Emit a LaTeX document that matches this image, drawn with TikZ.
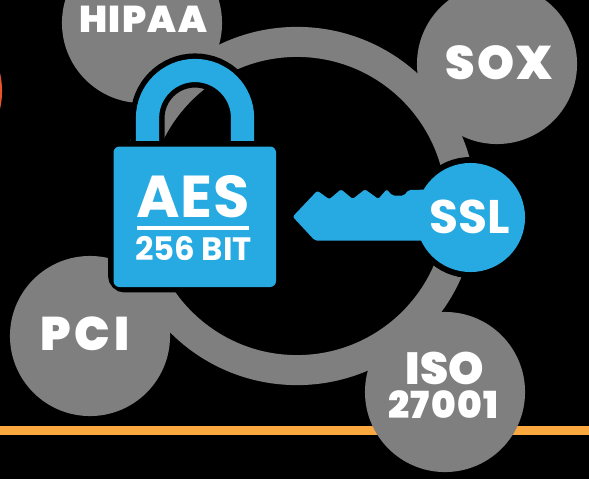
\documentclass[tikz,border=0pt]{standalone}
\usepackage{fontspec}
\setmainfont{Poppins}
\newfontfamily\heavyfont[UprightFont=* Black]{Poppins}
\newfontfamily\lockfont[UprightFont=* Bold]{Poppins}
\definecolor{BadgeGray}{HTML}{7F7F7F}
\definecolor{LockBlue}{HTML}{27AAE1}
\definecolor{BarOrange}{HTML}{FBA83F}
\definecolor{EdgeRed}{HTML}{E9552B}
\tikzset{
    badge/.style={circle, fill=BadgeGray, inner sep=0pt, minimum size=1.6cm},
    heavytext/.style={text=white, inner sep=0pt, anchor=base, font=\heavyfont},
    locktext/.style={text=white, inner sep=0pt, anchor=base, font=\lockfont},
}
\begin{document}
\begin{tikzpicture}[x=0.01cm,y=-0.01cm]
    \coordinate (PageMin)    at (0,0);
    \coordinate (PageMax)    at (589,479);
    \coordinate (RingCenter) at (297,206);
    \coordinate (BarLeft)    at (0,430.5);
    \coordinate (BarRight)   at (589,430.5);
    \coordinate (ShackleLeft)  at (147.5,150);
    \coordinate (ShackleRight) at (242.5,150);
    \useasboundingbox (PageMin) rectangle (PageMax);
    \clip (PageMin) rectangle (PageMax);
    \fill [black] (PageMin) rectangle (PageMax);
    \fill [EdgeRed] (-78,91) circle [radius=0.8cm];% Scrap at the left edge
    \draw [BarOrange, line width=2.56pt] (BarLeft) -- (BarRight);
    \draw [BadgeGray, line width=8.54pt] (RingCenter) circle [radius=1.64cm];
    \node [badge] (HipaaBadge) at (142,23) {};
    \node [badge] (SoxBadge) at (497,64) {};
    \node [badge] (PciBadge) at (90,336) {};
    \node [badge] (IsoBadge) at (445,392) {};
    \node [heavytext] (HipaaLabel) at (143,33) {\fontsize{10.6}{12}\selectfont\addfontfeature{LetterSpace=4}HIPAA};
    \node [heavytext] (SoxLabel) at (499,79.5) {\fontsize{13.4}{15}\selectfont\addfontfeature{LetterSpace=4}SOX};
    \node [heavytext] (PciLabel) at (85,350.5) {\fontsize{13.4}{15}\selectfont\addfontfeature{LetterSpace=9}PCI};
    \node [heavytext] (IsoLabel) at (445,384) {\fontsize{12.8}{15}\selectfont ISO};
    \node [heavytext] (IsoNumber) at (443.5,418) {\fontsize{10.6}{12}\selectfont\addfontfeature{LetterSpace=4}27001};
    % Padlock
    \draw [black, line width=9.7pt] (ShackleLeft) -- (147.5,118) arc [start angle=180, end angle=0, radius=0.475cm] -- (ShackleRight);
    \draw [LockBlue, line width=6.6pt] (ShackleLeft) -- (147.5,118) arc [start angle=180, end angle=0, radius=0.475cm] -- (ShackleRight);
    \draw [black, line width=3.1pt, rounded corners=3.2pt] (113.5,146.5) rectangle (276,287);
    \fill [LockBlue, rounded corners=1.7pt] (113.5,146.5) rectangle (276,287);
    \node [locktext] (AesLabel) at (193,217) {\fontsize{16.8}{18}\selectfont\addfontfeature{LetterSpace=1}AES};
    \draw [white, line width=1.1pt] (137,228) -- (249,228);
    \node [locktext] (BitLabel) at (193.5,260) {\fontsize{9.2}{11}\selectfont 256 BIT};
    % Key
    \def\KeyHead{(470.5,217.5) circle [radius=0.545cm]}
    \def\KeyBlade{[rounded corners=0.6pt] (440,240.7) -- (315,240.7) -- (292.7,216.7) -- (317.3,190.7) -- (329.3,199.3) -- (341,189.3)
        -- (352.7,199) -- (365,189.3) -- (378.3,199) -- (386.7,189.3) -- (392.3,195.7) -- (404,195.7) -- (408.3,190) -- (440,189.3) -- cycle}
    \draw [black, line width=3.4pt] \KeyHead;
    \draw [black, line width=3.4pt] \KeyBlade;
    \fill [LockBlue] \KeyHead;
    \fill [LockBlue] \KeyBlade;
    \node [locktext] (SslLabel) at (469.5,233) {\fontsize{13.4}{16}\selectfont SSL};
\end{tikzpicture}
\end{document}
